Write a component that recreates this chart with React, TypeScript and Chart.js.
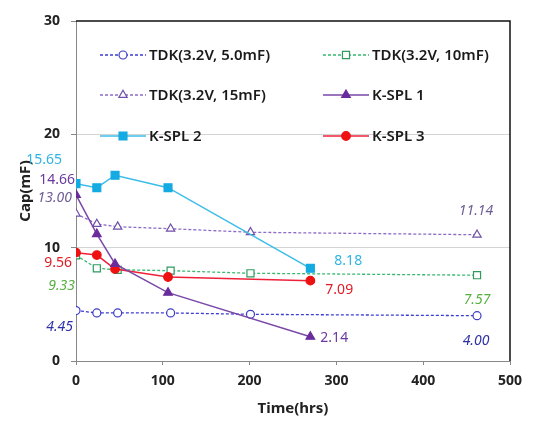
import React, { useEffect, useRef } from 'react';
import { Chart, registerables } from 'chart.js';

Chart.register(...registerables);

// ---- data ----
const tdkHours = [0, 24, 48, 109, 201, 462];
const ksplHours = [0, 24, 45, 106, 270];

const tdk5 = [4.45, 4.24, 4.24, 4.24, 4.12, 4.0];
const tdk10 = [9.33, 8.18, 8.05, 7.97, 7.74, 7.57];
const tdk15 = [13.0, 12.09, 11.85, 11.67, 11.36, 11.14];
const kspl1 = [14.66, 11.2, 8.56, 6.03, 2.14];
const kspl2 = [15.65, 15.29, 16.39, 15.29, 8.18];
const kspl3 = [9.56, 9.35, 8.12, 7.41, 7.09];

const seriesNames = [
  'TDK(3.2V, 5.0mF)',
  'TDK(3.2V, 10mF)',
  'TDK(3.2V, 15mF)',
  'K-SPL 1',
  'K-SPL 2',
  'K-SPL 3',
];

const xTickValues = [0, 100, 200, 300, 400, 500];
const yTickValues = [0, 10, 20, 30];
const xTitle = 'Time(hrs)';
const yTitle = 'Cap(mF)';

const FONT = "'Noto Sans', 'DejaVu Sans', sans-serif";

type Style = {
  line: string;
  marker: string;
  fill: string;
  label: string;
  shape: 'circle' | 'rect' | 'triangle';
  radius: number;
  dash: number[];
  width: number;
  italic: boolean;
};

const styles: Style[] = [
  { line: '#3c3cd2', marker: '#3c3cc8', fill: '#ffffff', label: '#3030aa', shape: 'circle', radius: 4, dash: [3, 2], width: 1.3, italic: true },
  { line: '#38b870', marker: '#2e9a5e', fill: '#ffffff', label: '#55b040', shape: 'rect', radius: 5, dash: [3, 2], width: 1.3, italic: true },
  { line: '#8c6cc4', marker: '#7050a8', fill: '#ffffff', label: '#6e5e96', shape: 'triangle', radius: 4.8, dash: [3, 2], width: 1.3, italic: true },
  { line: '#7a48a8', marker: '#6a2c9c', fill: '#6a2c9c', label: '#6a3aa0', shape: 'triangle', radius: 5, dash: [], width: 1.5, italic: false },
  { line: '#3cbce8', marker: '#14aae2', fill: '#14aae2', label: '#30b4e4', shape: 'rect', radius: 5.6, dash: [], width: 1.5, italic: false },
  { line: '#f0203a', marker: '#ee1111', fill: '#ee1111', label: '#e01c24', shape: 'circle', radius: 4.3, dash: [], width: 1.5, italic: false },
];

// data labels: dataset index, point index, offset, alignment
const valueLabels = [
  { ds: 4, idx: 0, dx: -14, dy: -24, align: 'right' },
  { ds: 3, idx: 0, dx: -1, dy: -15, align: 'right' },
  { ds: 2, idx: 0, dx: -4, dy: -16, align: 'right' },
  { ds: 5, idx: 0, dx: -4, dy: 10, align: 'right' },
  { ds: 1, idx: 0, dx: -1, dy: 31, align: 'right' },
  { ds: 0, idx: 0, dx: -3, dy: 16, align: 'right' },
  { ds: 2, idx: 5, dx: -1, dy: -24, align: 'center' },
  { ds: 4, idx: 4, dx: 24, dy: -7, align: 'left' },
  { ds: 5, idx: 4, dx: 15, dy: 9, align: 'left' },
  { ds: 1, idx: 5, dx: 0, dy: 25, align: 'center' },
  { ds: 3, idx: 4, dx: 10, dy: 1, align: 'left' },
  { ds: 0, idx: 5, dx: -1, dy: 25, align: 'center' },
];

function drawMarker(ctx: CanvasRenderingContext2D, s: Style, x: number, y: number) {
  const r = s.radius;
  ctx.save();
  ctx.setLineDash([]);
  ctx.beginPath();
  if (s.shape === 'circle') {
    ctx.arc(x, y, r, 0, Math.PI * 2);
  } else if (s.shape === 'rect') {
    const h = r * Math.SQRT1_2;
    ctx.rect(x - h, y - h, 2 * h, 2 * h);
  } else {
    let a = 0;
    ctx.moveTo(x + Math.sin(a) * r, y - Math.cos(a) * r);
    a += (2 * Math.PI) / 3;
    ctx.lineTo(x + Math.sin(a) * r, y - Math.cos(a) * r);
    a += (2 * Math.PI) / 3;
    ctx.lineTo(x + Math.sin(a) * r, y - Math.cos(a) * r);
    ctx.closePath();
  }
  ctx.fillStyle = s.fill;
  ctx.fill();
  ctx.lineWidth = 1.2;
  ctx.strokeStyle = s.marker;
  ctx.stroke();
  ctx.restore();
}

const decorPlugin = {
  id: 'decor',
  afterDatasetsDraw(chart: any) {
    const ctx: CanvasRenderingContext2D = chart.ctx;
    const a = chart.chartArea;
    ctx.save();
    // frame top/right
    ctx.strokeStyle = '#111';
    ctx.lineWidth = 1.5;
    ctx.beginPath();
    ctx.moveTo(a.left, a.top);
    ctx.lineTo(a.right, a.top);
    ctx.lineTo(a.right, a.bottom);
    ctx.stroke();

    // legend
    const cols = [a.left + 24, a.left + 247];
    const rows = [a.top + 34, a.top + 74, a.top + 115];
    ctx.font = `600 15px ${FONT}`;
    ctx.textBaseline = 'middle';
    ctx.textAlign = 'left';
    seriesNames.forEach((name, i) => {
      const s = styles[i];
      const x0 = cols[i % 2];
      const y0 = rows[Math.floor(i / 2)];
      ctx.save();
      ctx.strokeStyle = s.line;
      ctx.lineWidth = s.width;
      ctx.setLineDash(s.dash);
      ctx.beginPath();
      ctx.moveTo(x0, y0);
      ctx.lineTo(x0 + 46, y0);
      ctx.stroke();
      ctx.restore();
      drawMarker(ctx, s, x0 + 23, y0);
      ctx.fillStyle = '#1a1a1a';
      ctx.fillText(name, x0 + 49, y0 + 1);
    });

    // value labels
    valueLabels.forEach((l) => {
      const meta = chart.getDatasetMeta(l.ds);
      const el = meta.data[l.idx];
      const s = styles[l.ds];
      const v = chart.data.datasets[l.ds].data[l.idx].y as number;
      ctx.font = `${s.italic ? 'italic ' : ''}14px ${FONT}`;
      ctx.fillStyle = s.label;
      ctx.textAlign = l.align as CanvasTextAlign;
      ctx.textBaseline = 'middle';
      ctx.fillText(v.toFixed(2), el.x + l.dx, el.y + l.dy);
    });
    ctx.restore();
  },
};

export default function App() {
  const ref = useRef<HTMLCanvasElement>(null);
  useEffect(() => {
    if (!ref.current) return;
    const series = [tdk5, tdk10, tdk15, kspl1, kspl2, kspl3];
    const datasets = series.map((vals, i) => {
      const hours = i < 3 ? tdkHours : ksplHours;
      const s = styles[i];
      return {
        label: seriesNames[i],
        data: vals.map((v, k) => ({ x: hours[k], y: v })),
        borderColor: s.line,
        borderWidth: s.width,
        borderDash: s.dash,
        backgroundColor: s.fill,
        pointStyle: s.shape,
        pointRadius: s.radius,
        pointBackgroundColor: s.fill,
        pointBorderColor: s.marker,
        pointBorderWidth: 1.2,
        tension: 0,
        fill: false,
        order: i < 3 ? 1 : 0,
      };
    });
    const chart = new Chart(ref.current, {
      type: 'line',
      data: { datasets },
      plugins: [decorPlugin],
      options: {
        animation: false,
        responsive: false,
        devicePixelRatio: 1,
        layout: { padding: { left: 0, right: 35, top: 21, bottom: 0 } },
        plugins: { legend: { display: false }, tooltip: { enabled: false } },
        scales: {
          x: {
            type: 'linear',
            min: 0,
            max: 500,
            afterBuildTicks: (sc: any) => {
              sc.ticks = xTickValues.map((v) => ({ value: v }));
            },
            afterFit: (sc: any) => {
              sc.height = 69;
            },
            grid: { drawOnChartArea: false, drawTicks: true, tickLength: 4, tickColor: '#888' },
            border: { color: '#888', width: 1 },
            ticks: { padding: 8, color: '#222', font: { family: FONT, size: 14, weight: 'bold' } },
            title: {
              display: true,
              text: xTitle,
              color: '#222',
              font: { family: FONT, size: 15, weight: 'bold' },
              padding: { top: 0, bottom: 12 },
            },
          },
          y: {
            type: 'linear',
            min: 0,
            max: 30,
            afterBuildTicks: (sc: any) => {
              sc.ticks = yTickValues.map((v) => ({ value: v }));
            },
            afterFit: (sc: any) => {
              sc.width = 76;
            },
            grid: {
              color: (c: any) => (c.tick && (c.tick.value === 10 || c.tick.value === 20) ? '#d4d4d4' : 'rgba(0,0,0,0)'),
              tickColor: '#888',
              tickLength: 5,
              lineWidth: 1,
            },
            border: { color: '#888', width: 1 },
            ticks: { padding: 11, color: '#222', font: { family: FONT, size: 14, weight: 'bold' } },
            title: {
              display: true,
              text: yTitle,
              color: '#222',
              font: { family: FONT, size: 15, weight: 'bold' },
              padding: { top: 17, bottom: 0 },
            },
          },
        },
      } as any,
    });
    return () => chart.destroy();
  }, []);
  return (
    <div style={{ position: 'absolute', left: 0, top: 0, width: 545, height: 430, background: '#fff' }}>
      <canvas ref={ref} width={545} height={430} style={{ width: 545, height: 430 }} />
    </div>
  );
}
